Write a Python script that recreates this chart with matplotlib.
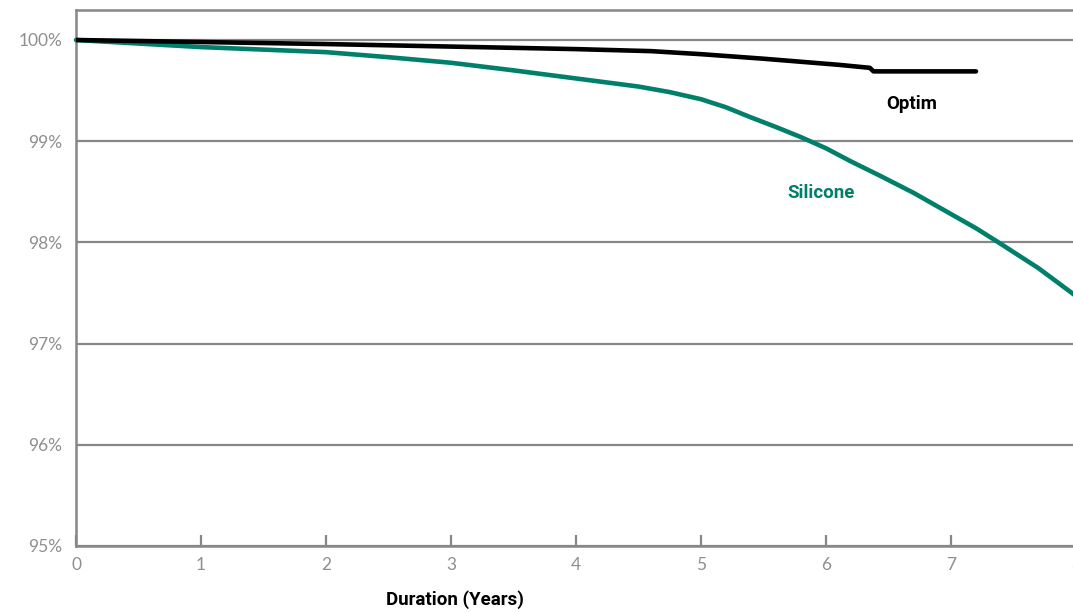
import matplotlib
matplotlib.use("Agg")
import matplotlib.pyplot as plt

optim_years = [0, 1, 2, 3, 4, 4.6, 5, 5.5, 5.8, 6.1, 6.35, 6.38, 7.2]
optim_vals = [100.0, 99.98, 99.96, 99.935, 99.91, 99.89, 99.86, 99.815, 99.785, 99.755, 99.725, 99.69, 99.69]

silicone_years = [0, 0.5, 1, 1.5, 2, 2.5, 3, 3.5, 4, 4.5, 4.75, 5, 5.2, 5.4, 5.6, 5.8,
                  6.0, 6.2, 6.43, 6.7, 7.0, 7.2, 7.38, 7.7, 8]
silicone_vals = [100.0, 99.965, 99.93, 99.905, 99.88, 99.83, 99.775, 99.70, 99.62, 99.54,
                 99.485, 99.415, 99.335, 99.235, 99.14, 99.04, 98.93, 98.80, 98.66,
                 98.49, 98.28, 98.14, 98.0, 97.745, 97.47]

y_ticks = [95, 96, 97, 98, 99, 100]
y_labels = ["95%", "96%", "97%", "98%", "99%", "100%"]
x_ticks = [0, 1, 2, 3, 4, 5, 6, 7, 8]

GRAY = "#87878a"
TICKGRAY = "#8f8f91"
GREEN = "#00806a"
BOLDFONT = ["Roboto", "DejaVu Sans"]

W, H = 1073, 612
fig = plt.figure(figsize=(W / 100, H / 100), dpi=100)
ax = fig.add_axes([76 / W, 66 / H, 1000 / W, 536 / H])
ax.set_xlim(0, 8)
ax.set_ylim(95, 95 + 536 / 101.2)

ax.set_yticks(y_ticks)
ax.set_yticklabels(y_labels)
ax.set_xticks(x_ticks)
ax.set_xticklabels([str(t) for t in x_ticks])
ax.grid(axis="y", color=GRAY, linewidth=1.6)
ax.set_axisbelow(True)
ax.tick_params(axis="y", length=0, pad=10, labelsize=12.5, labelcolor=TICKGRAY)
ax.tick_params(axis="x", direction="in", length=8, width=1.6, color=GRAY,
               pad=8, labelsize=12.5, labelcolor=TICKGRAY)
for s in ["left", "bottom", "top", "right"]:
    ax.spines[s].set_color(GRAY)
    ax.spines[s].set_linewidth(1.8)
for lbl in ax.get_xticklabels() + ax.get_yticklabels():
    lbl.set_family(["Lato", "DejaVu Sans"])

ax.plot(silicone_years, silicone_vals, color=GREEN, linewidth=3.3,
        solid_capstyle="round", solid_joinstyle="round", clip_on=False, zorder=3)
ax.plot(optim_years, optim_vals, color="black", linewidth=3.3,
        solid_capstyle="round", solid_joinstyle="round", zorder=4)

ax.text(6.48, 99.37, "Optim", color="black", fontsize=13.5, fontweight="bold",
        family=BOLDFONT, ha="left", va="center")
ax.text(5.69, 98.49, "Silicone", color=GREEN, fontsize=13.5, fontweight="bold",
        family=BOLDFONT, ha="left", va="center")

fig.text(455 / W, 1 - 600 / H, "Duration (Years)", color="black", fontsize=13.5,
         fontweight="bold", family=BOLDFONT, ha="center", va="center")

fig.savefig("out.png", dpi=100)
